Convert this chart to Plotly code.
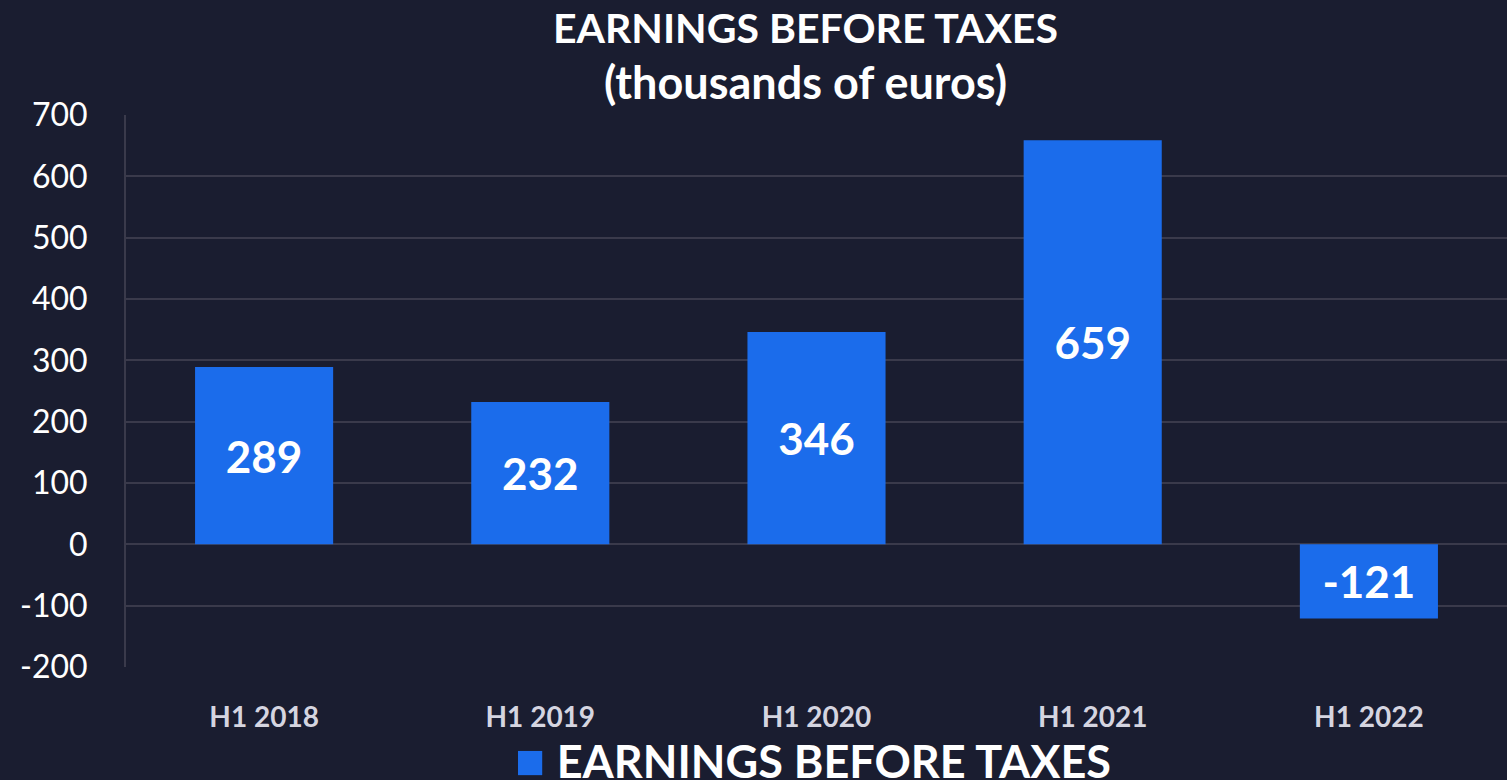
import plotly.graph_objects as go

categories = ["H1 2018", "H1 2019", "H1 2020", "H1 2021", "H1 2022"]
values = [289, 232, 346, 659, -121]
series_name = "EARNINGS BEFORE TAXES"
title_lines = ["EARNINGS BEFORE TAXES", "(thousands of euros)"]
y_ticks = [-200, -100, 0, 100, 200, 300, 400, 500, 600, 700]
y_tick_labels = ["-200", "-100", "0", "100", "200", "300", "400", "500", "600", "700"]

BG = "#1a1d30"
BAR = "#1b6ceb"
GRID = "#3a3a4b"
FONT = "Lato"

fig = go.Figure()
fig.add_trace(go.Bar(
    x=categories, y=values, name=series_name,
    marker=dict(color=BAR, line=dict(width=0)),
    text=[str(v) for v in values], textposition="inside",
    insidetextanchor="middle", textangle=0,
    textfont=dict(family=FONT, size=44, color="white", weight="bold"),
    showlegend=False,
))

title_text = (f'<span style="font-size:41px">{title_lines[0]}</span><br>'
              f'<span style="font-size:45px">{title_lines[1]}</span>')

fig.update_layout(
    width=1507, height=780,
    paper_bgcolor=BG, plot_bgcolor=BG,
    margin=dict(l=126, r=0, t=115, b=113),
    bargap=0.5,
    title=dict(text=title_text, x=0.492, xref="paper", xanchor="center",
               y=0.945, yref="container", yanchor="top",
               font=dict(family=FONT, size=43, color="white", weight="bold")),
    xaxis=dict(showgrid=False, showline=False, zeroline=False, ticks="",
               tickfont=dict(family=FONT, size=28, color="#d5d5e0", weight="bold"),
               ticklabelstandoff=31),
    yaxis=dict(range=[-200, 700], tickvals=y_ticks, ticktext=y_tick_labels,
               showgrid=True, gridcolor=GRID, gridwidth=2,
               zeroline=True, zerolinecolor=GRID, zerolinewidth=2,
               showline=True, linecolor=GRID, linewidth=2, ticks="",
               tickfont=dict(family=FONT, size=32, color="white"),
               ticklabelstandoff=30),
    annotations=[dict(
        text=f'<span style="color:{BAR};font-size:50px">■</span> <b>{series_name}</b>',
        xref="paper", yref="paper", x=0.5, y=0, xanchor="center", yanchor="top",
        xshift=-4, yshift=-60, showarrow=False,
        font=dict(family=FONT, size=45, color="white"),
    )],
)

fig.write_html("out.html", config={"displayModeBar": False},
               post_script="document.body.style.margin='0';document.body.style.overflow='hidden';")
